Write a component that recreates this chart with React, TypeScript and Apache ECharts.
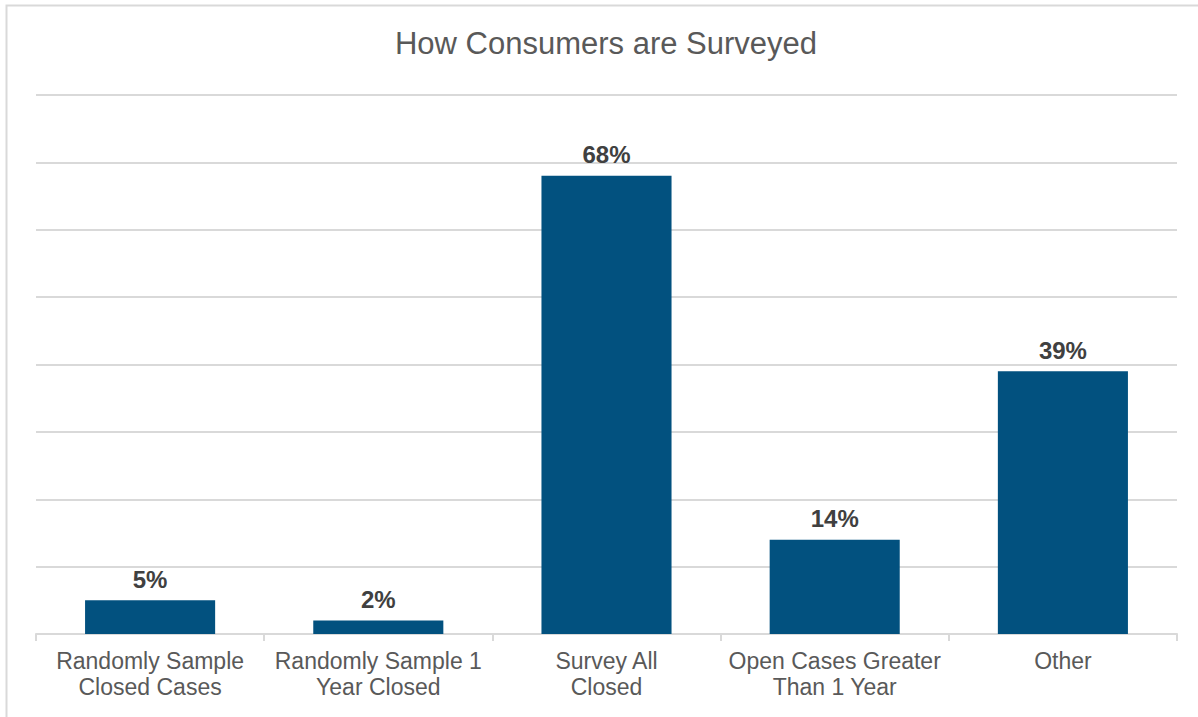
import React, { useEffect, useRef } from "react";
import * as echarts from "echarts";

const categories = [
  "Randomly Sample\nClosed Cases",
  "Randomly Sample 1\nYear Closed",
  "Survey All\nClosed",
  "Open Cases Greater\nThan 1 Year",
  "Other",
];
const values = [5, 2, 68, 14, 39];
const yTicks = [0, 10, 20, 30, 40, 50, 60, 70, 80];

const FONT = "Liberation Sans, Arial, sans-serif";

export default function App() {
  const ref = useRef<HTMLDivElement>(null);
  useEffect(() => {
    if (!ref.current) return;
    const chart = echarts.init(ref.current, null, { renderer: "svg" });
    chart.setOption({
      animation: false,
      backgroundColor: "#ffffff",
      textStyle: { fontFamily: FONT },
      title: {
        text: "How Consumers are Surveyed",
        left: 601,
        textAlign: "center",
        top: 23,
        textStyle: {
          fontSize: 31,
          fontWeight: "normal",
          color: "#595959",
          fontFamily: FONT,
        },
      },
      graphic: [
        {
          type: "rect",
          shape: { x: 6.5, y: 5.5, width: 1200, height: 720 },
          style: { fill: "none", stroke: "#d9d9d9", lineWidth: 2 },
          silent: true,
        },
      ],
      grid: { left: 36, right: 21, top: 95, bottom: 83, containLabel: false },
      xAxis: {
        type: "category",
        data: categories,
        axisLine: { show: true, lineStyle: { color: "#d9d9d9", width: 2 } },
        axisTick: { show: true, length: 7, lineStyle: { color: "#d9d9d9", width: 2 } },
        axisLabel: {
          color: "#595959",
          fontSize: 23,
          lineHeight: 26,
          margin: 14,
          interval: 0,
          fontFamily: FONT,
        },
      },
      yAxis: {
        type: "value",
        min: yTicks[0],
        max: yTicks[yTicks.length - 1],
        interval: 10,
        axisLine: { show: false },
        axisTick: { show: false },
        axisLabel: { show: false },
        splitLine: { lineStyle: { color: "#d9d9d9", width: 2 } },
      },
      series: [
        {
          type: "bar",
          data: values,
          barCategoryGap: "43%",
          itemStyle: { color: "#02517f" },
          label: {
            show: true,
            position: "top",
            distance: 9,
            formatter: "{c}%",
            color: "#404040",
            fontSize: 24,
            fontWeight: "bold",
            fontFamily: FONT,
          },
        },
      ],
    });
    return () => chart.dispose();
  }, []);
  return (
    <div
      ref={ref}
      style={{ position: "fixed", left: 0, top: 0, width: 1198, height: 717 }}
    />
  );
}
